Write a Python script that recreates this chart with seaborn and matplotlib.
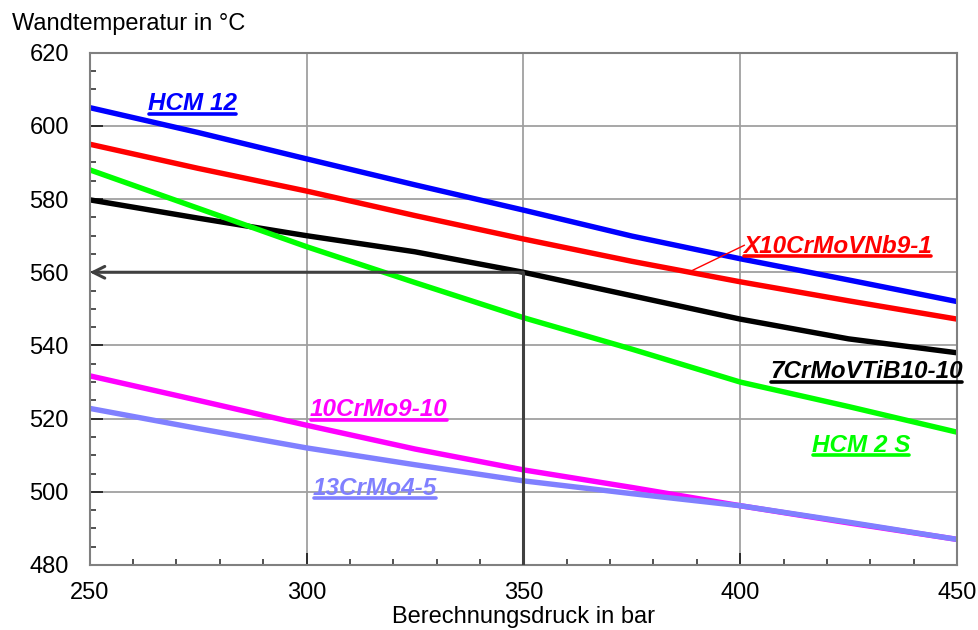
import numpy as np
import pandas as pd
import matplotlib
matplotlib.use("Agg")
import matplotlib.pyplot as plt
import seaborn as sns
from matplotlib.lines import Line2D
from matplotlib.ticker import MultipleLocator

# ---------------- data ----------------
pressure = [250, 275, 300, 325, 350, 375, 400, 425, 450]
hcm12 = [605.0, 598.2, 591.0, 583.9, 577.0, 569.9, 563.7, 557.9, 552.0]
x10crmovnb = [595.0, 588.4, 582.2, 575.5, 569.1, 563.0, 557.4, 552.2, 547.2]
t7crmovtib = [579.8, 574.8, 570.0, 565.6, 560.0, 553.6, 547.2, 541.8, 538.0]
hcm2s = [588.0, 577.5, 567.0, 557.2, 547.6, 539.0, 530.0, 523.3, 516.3]
t10crmo910 = [531.7, 525.0, 518.2, 511.7, 506.0, 501.2, 496.2, 491.5, 487.0]
t13crmo45 = [522.8, 517.3, 512.0, 507.4, 503.0, 499.5, 496.2, 491.7, 487.0]

materials = ["HCM 12", "X10CrMoVNb9-1", "7CrMoVTiB10-10", "HCM 2 S",
             "10CrMo9-10", "13CrMo4-5"]
colors = ["#0000FF", "#FF0000", "#000000", "#00FF00", "#FF00FF", "#8080FF"]
series = [hcm12, x10crmovnb, t7crmovtib, hcm2s, t10crmo910, t13crmo45]

x_ticks = [250, 300, 350, 400, 450]
y_ticks = [480, 500, 520, 540, 560, 580, 600, 620]

# reading example (design pressure -> wall temperature)
read_pressure = 350
read_temp = 560

# label anchor positions (data coords, left/baseline)
label_x = [263.4, 400.6, 406.9, 416.5, 300.8, 301.5]
label_y = [604.3, 565.3, 531.1, 511.0, 520.7, 499.2]

df = pd.DataFrame({
    "Berechnungsdruck": np.tile(pressure, len(materials)),
    "Wandtemperatur": np.concatenate(series),
    "Werkstoff": np.repeat(materials, len(pressure)),
})

# ---------------- plot ----------------
sns.set_theme(style="white")
plt.rcParams["font.family"] = ["Liberation Sans", "DejaVu Sans"]

fig = plt.figure(figsize=(9.79, 6.30), dpi=100)
ax = fig.add_axes([0.0916, 0.1032, 0.8859, 0.8131])

ax.grid(which="major", color="#a0a0a0", linewidth=1.3, zorder=0)
ax.set_axisbelow(True)

sns.lineplot(data=df, x="Berechnungsdruck", y="Wandtemperatur",
             hue="Werkstoff", hue_order=materials,
             palette=dict(zip(materials, colors)),
             linewidth=3.9, legend=False, sort=False, ax=ax)
for ln in ax.lines:
    ln.set_solid_joinstyle("round")

# reading lines
ax.plot([read_pressure, read_pressure], [y_ticks[0], read_temp],
        color="#404040", lw=2.2, zorder=5, solid_capstyle="butt")
ax.annotate("", xy=(x_ticks[0], read_temp), xytext=(read_pressure, read_temp),
            arrowprops=dict(arrowstyle="->,head_length=0.7,head_width=0.35",
                            color="#404040", lw=2.2, shrinkA=0, shrinkB=0),
            zorder=5)

# leader line for X10CrMoVNb9-1
ax.plot([388.8, 401.0], [560.4, 567.4], color="#FF0000", lw=1.0, zorder=4)

ax.set_xlim(x_ticks[0], x_ticks[-1])
ax.set_ylim(y_ticks[0], y_ticks[-1])
ax.set_xticks(x_ticks)
ax.set_yticks(y_ticks)
ax.xaxis.set_minor_locator(MultipleLocator(10))
ax.yaxis.set_minor_locator(MultipleLocator(5))
ax.tick_params(which="major", direction="in", length=9, width=1.3,
               color="#222222", labelsize=17, labelcolor="#000000")
ax.tick_params(which="minor", direction="in", length=4.5, width=1.1,
               color="#222222")
ax.tick_params(axis="y", which="major", pad=15, left=True)
ax.tick_params(axis="y", which="minor", left=True)
ax.tick_params(axis="x", which="major", pad=12, bottom=True)
ax.tick_params(axis="x", which="minor", bottom=True)
ax.set_xlabel("")
ax.set_ylabel("")
for s in ax.spines.values():
    s.set_color("#808080")
    s.set_linewidth(1.5)

fig.text(11.7 / 979, 1 - 30 / 630, "Wandtemperatur in °C", fontsize=17,
         ha="left", va="baseline", color="black")
fig.text((89.7 + 957) / 2 / 979, 1 - 623 / 630, "Berechnungsdruck in bar",
         fontsize=17, ha="center", va="baseline", color="black")

texts = []
for name, c, lx, ly in zip(materials, colors, label_x, label_y):
    t = ax.text(lx, ly, name, color=c, fontsize=17.5, fontweight="bold",
                fontstyle="italic", ha="left", va="baseline", zorder=6)
    texts.append((t, c))

# underline the labels
fig.canvas.draw()
renderer = fig.canvas.get_renderer()
inv = fig.transFigure.inverted()
for t, c in texts:
    bb = t.get_window_extent(renderer)
    base = ax.transData.transform(t.get_position())[1]
    yl = base - 3.5
    (x0, y0), (x1, y1) = inv.transform([(bb.x0 + 1, yl), (bb.x1 - 1, yl)])
    fig.add_artist(Line2D([x0, x1], [y0, y1], color=c, lw=2.6,
                          transform=fig.transFigure))

fig.savefig("out.png", dpi=100)
